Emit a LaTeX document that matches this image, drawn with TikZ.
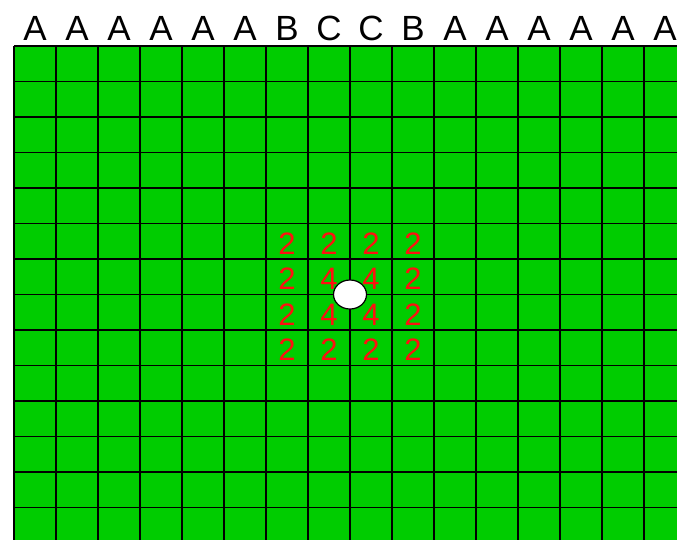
\documentclass[tikz,border=0pt]{standalone}
\usepackage{fontspec}
\setmainfont{Liberation Sans}
\usetikzlibrary{shapes.geometric}
\definecolor{cellgreen}{HTML}{00CC00}
\definecolor{numred}{HTML}{FF1010}
\begin{document}
\begin{tikzpicture}[x=1pt,y=-1pt,
  collabel/.style={anchor=base,inner sep=0pt,font=\fontsize{35}{35}\selectfont},
  numlabel/.style={anchor=base,inner sep=0pt,text=numred,font=\fontsize{31}{31}\selectfont},
  gridline/.style={black,line width=1.3pt}]
\useasboundingbox (0,0) rectangle (677,539);
\begin{scope}
\clip (0,0) rectangle (677,539);
\fill[cellgreen] (14,46) rectangle (686,543);
\foreach \k in {0,...,16} \draw[gridline] ({14+42*\k},46) -- ({14+42*\k},543);
\foreach \k in {0,...,14} \draw[gridline] (14,{46+35.5*\k}) -- (686,{46+35.5*\k});
\end{scope}
\foreach \t [count=\i from 0] in {A,A,A,A,A,A,B,C,C,B,A,A,A,A,A,A}
  \node[collabel] (lab\i) at ({35+42*\i},40) {\t};
% numbers
\foreach \r [count=\j from 0] in {{2,2,2,2},{2,4,4,2},{2,4,4,2},{2,2,2,2}} {
  \foreach \v [count=\i from 0] in \r
    \node[numlabel] (n\j\i) at ({287+42*\i},{254+35.5*\j}) {\v};
}
\node[draw=black,fill=white,ellipse,line width=1.2pt,minimum width=33pt,minimum height=29pt,inner sep=0pt] (hole) at (350,294.5) {};
\end{tikzpicture}
\end{document}
